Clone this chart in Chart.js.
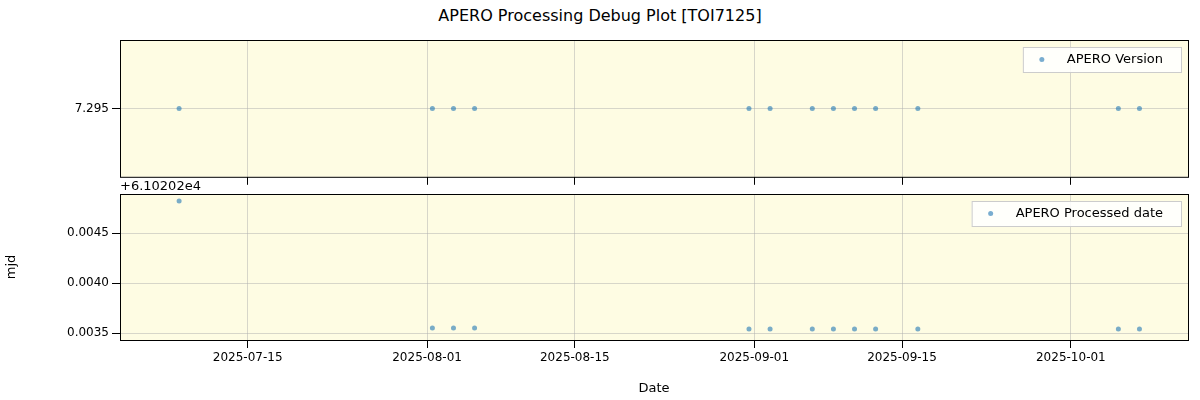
<!DOCTYPE html>
<html>
<head>
<meta charset="utf-8">
<script src="https://cdn.jsdelivr.net/npm/chart.js@4"></script>
<style>
  body { margin: 0; background: #fff; width: 1200px; height: 400px; position: relative; font-family: 'DejaVu Sans', sans-serif; }
  #title { position: absolute; top: 6px; width: 1200px; text-align: center; font-size: 16px; }
  canvas { position: absolute; left: 0; }
</style>
</head>
<body>
<div id="title">APERO Processing Debug Plot [TOI7125]</div>
<canvas id="top" style="top:0"></canvas>
<canvas id="bot" style="top:175px"></canvas>
<script>
const dates = ['2025-07-08', '2025-08-01', '2025-08-03', '2025-08-05', '2025-08-31', '2025-09-02',
  '2025-09-06', '2025-09-08', '2025-09-10', '2025-09-12', '2025-09-16', '2025-10-05', '2025-10-07'];
const versions = [7.295, 7.295, 7.295, 7.295, 7.295, 7.295, 7.295, 7.295, 7.295, 7.295, 7.295, 7.295, 7.295];
// processed date minus offset 6.10202e4
const processed = [0.00482, 0.00355, 0.00355, 0.00355, 0.00354, 0.00354, 0.00354, 0.00354, 0.00354, 0.00354, 0.00354, 0.00354, 0.00354];
const xTickLabels = ['2025-07-15', '2025-08-01', '2025-08-15', '2025-09-01', '2025-09-15', '2025-10-01'];
const bottomTicks = [0.0035, 0.0040, 0.0045];

const ms = s => Date.parse(s + 'T12:00:00Z');
const xTicks = xTickLabels.map(s => Date.parse(s + 'T00:00:00Z'));
const xMin = Date.parse('2025-07-03T00:00:00Z') - 0.1 * 864e5;
const xMax = Date.parse('2025-10-12T00:00:00Z') + 0.1 * 864e5;
const fmt = v => new Date(v).toISOString().slice(0, 10);
const grid = { color: 'rgba(176,176,176,0.5)', borderDash: [4, 3], tickColor: '#000' };
const font = { family: 'DejaVu Sans', size: 12 };
const pointColor = 'rgba(31,119,180,0.6)';

const bgPlugin = {
  id: 'bg',
  beforeDraw(chart) {
    const a = chart.chartArea, c = chart.ctx;
    c.save(); c.fillStyle = '#fefce3'; c.fillRect(a.left, a.top, a.width, a.height); c.restore();
  },
  afterDraw(chart, args, opts) {
    const a = chart.chartArea, c = chart.ctx;
    c.save();
    c.strokeStyle = '#000'; c.lineWidth = 1;
    c.strokeRect(a.left + 0.5, a.top + 0.5, a.width, a.height);
    c.font = '13px DejaVu Sans';
    const w = c.measureText(opts.label).width + 62;
    const x = a.right - w - 7, y = a.top + 7;
    c.fillStyle = 'rgba(255,255,255,0.85)'; c.strokeStyle = '#ccc';
    c.fillRect(x, y, w, 25); c.strokeRect(x + 0.5, y + 0.5, w, 25);
    c.fillStyle = pointColor; c.beginPath(); c.arc(x + 19, y + 12.5, 2.5, 0, 2 * Math.PI); c.fill();
    c.fillStyle = '#000'; c.textBaseline = 'middle';
    c.fillText(opts.label, x + 44, y + 13);
    if (opts.offset) { c.textBaseline = 'bottom'; c.fillText(opts.offset, a.left, a.top - 1); }
    c.restore();
  }
};

function makeChart(id, h, padTop, values, label, yMin, yMax, yTicks, yFmt, showX, offset) {
  const cv = document.getElementById(id);
  cv.width = 1200; cv.height = h;
  cv.style.width = '1200px'; cv.style.height = h + 'px';
  return new Chart(cv, {
    type: 'scatter',
    data: { datasets: [{ data: dates.map((d, i) => ({ x: ms(d), y: values[i] })), backgroundColor: pointColor, borderWidth: 0, pointRadius: 2.5 }] },
    plugins: [bgPlugin],
    options: {
      responsive: false, animation: false, devicePixelRatio: 1,
      layout: { padding: { top: padTop, right: 12, left: 0, bottom: 0 } },
      plugins: { legend: { display: false }, tooltip: { enabled: false }, bg: { label, offset } },
      scales: {
        x: {
          type: 'linear', min: xMin, max: xMax,
          afterBuildTicks: s => { s.ticks = xTicks.map(v => ({ value: v })); },
          afterFit: s => { s.height = showX ? 60 : 1; },
          grid, border: { display: false },
          ticks: { display: showX, maxRotation: 0, color: '#000', font, callback: v => fmt(v) },
          title: { display: showX, text: 'Date', color: '#000', font: { ...font, size: 13 } }
        },
        y: {
          min: yMin, max: yMax,
          afterBuildTicks: s => { s.ticks = yTicks.map(v => ({ value: v })); },
          afterFit: s => { s.width = 120; },
          grid, border: { display: false },
          ticks: { color: '#000', font, callback: yFmt },
          title: { display: showX, text: 'mjd', color: '#000', font: { ...font, size: 13 } }
        }
      }
    }
  });
}

makeChart('top', 187, 40, versions, 'APERO Version', 7.2915, 7.2985, [7.295], v => v.toFixed(3), false, null);
makeChart('bot', 225, 19, processed, 'APERO Processed date', 0.00343, 0.00489, bottomTicks, v => v.toFixed(4), true, '+6.10202e4');
</script>
</body>
</html>
